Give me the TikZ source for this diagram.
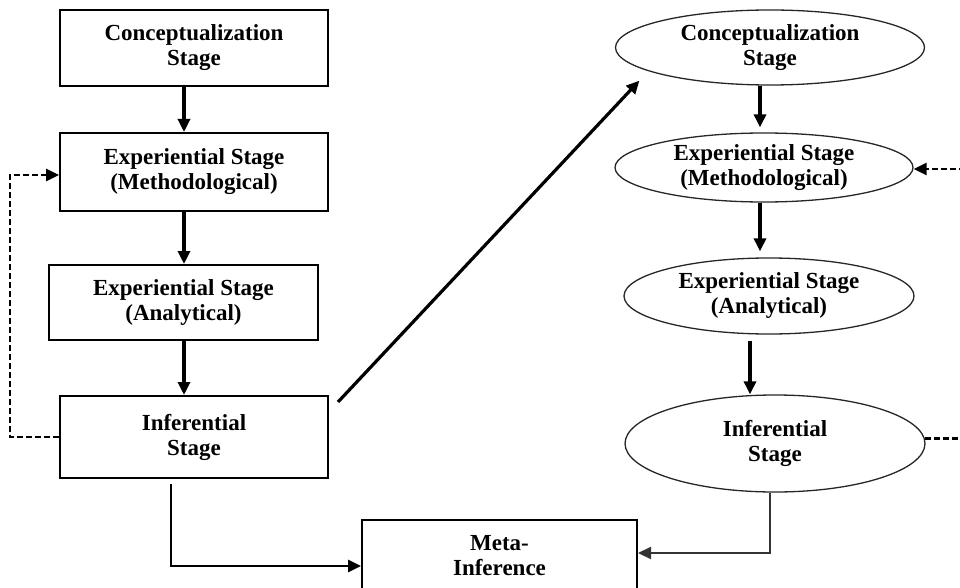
\documentclass[tikz,border=0pt]{standalone}
\usepackage{fontspec}
\setmainfont{Liberation Serif}
\usetikzlibrary{arrows.meta,shapes.geometric}

\tikzset{
  lbl/.style={font=\fontsize{23}{25}\selectfont\bfseries, align=center, inner sep=0pt},
  stagebox/.style={lbl, draw, line width=2pt, rectangle},
  stageoval/.style={lbl, draw=black!85, line width=1.3pt, ellipse},
  tip/.style={-{Triangle[length=13pt,width=12pt]}},
  flow/.style={tip, line width=3.2pt},
  mergeline/.style={tip, line width=2.8pt},
  feedback/.style={tip, line width=2.8pt, dash pattern=on 6pt off 3pt}
}

\begin{document}
\begin{tikzpicture}[x=1pt,y=-1pt]
  \useasboundingbox (0,0) rectangle (960,588);

  % first strand: rectangular stages
  \node[stagebox, minimum width=268pt, minimum height=76pt] (b1) at (194,48) {Conceptualization\\Stage};
  \node[stagebox, minimum width=268pt, minimum height=78pt] (b2) at (194,172) {Experiential Stage\\(Methodological)};
  \node[stagebox, minimum width=269pt, minimum height=75pt] (b3) at (183.5,302.5) {Experiential Stage\\(Analytical)};
  \node[stagebox, minimum width=268pt, minimum height=82pt] (b4) at (194,437) {Inferential\\Stage};

  % second strand: elliptical stages
  \node[stageoval, minimum width=309pt, minimum height=75pt] (e1) at (770,47.5) {Conceptualization\\Stage};
  \node[stageoval, minimum width=298pt, minimum height=69pt] (e2) at (764,167.5) {Experiential Stage\\(Methodological)};
  \node[stageoval, minimum width=290pt, minimum height=76pt] (e3) at (769,296) {Experiential Stage\\(Analytical)};
  \node[stageoval, minimum width=300pt, minimum height=97pt] (e4) at (775,443.5) {Inferential\\Stage};

  % combined result
  \node[stagebox, minimum width=275pt, minimum height=72pt] (meta) at (499.5,555.5) {Meta-\\Inference};

  % flow down the first strand
  \draw[flow] ([xshift=-10pt]b1.south) -- ([xshift=-10pt]b2.north);
  \draw[flow] ([xshift=-10pt]b2.south) -- ([xshift=0.5pt]b3.north);
  \draw[flow] ([xshift=0.5pt]b3.south) -- ([xshift=-10pt]b4.north);

  % flow down the second strand
  \draw[flow, shorten >=5pt] ([xshift=-10pt]e1.south) -- ([xshift=-4pt]e2.north);
  \draw[flow, shorten >=6pt] ([xshift=-4pt]e2.south) -- ([xshift=-9pt]e3.north);
  \draw[flow, shorten <=6pt] ([xshift=-19pt]e3.south) -- ([xshift=-25pt]e4.north);

  % hand-over from the first strand to the second
  \draw[flow, shorten >=13pt] ([xshift=9pt,yshift=-7pt]b4.north east) -- (e1.191);

  % feedback loops
  \draw[feedback] (b4.west) -- ++(-49,0) |- ([yshift=-3pt]b2.west);
  \draw[feedback] (e4.2.3) -- ++(70,0) |- ([yshift=-1.5pt]e2.east);

  % both inferences feed the meta-inference
  \draw[mergeline] ([xshift=-23pt,yshift=-5pt]b4.south) |- ([yshift=-10.5pt]meta.west);
  \draw[mergeline, black!80, line width=2.2pt] ([xshift=-5pt]e4.south) |- ([yshift=2.5pt]meta.east);
\end{tikzpicture}
\end{document}
